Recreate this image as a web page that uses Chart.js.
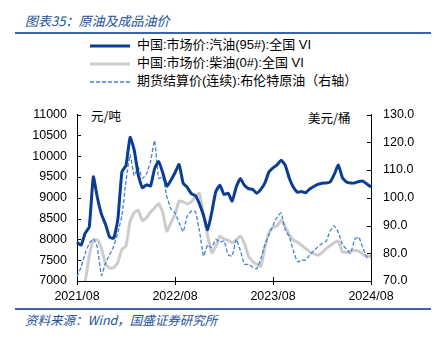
<!DOCTYPE html>
<html>
<head>
<meta charset="utf-8">
<script src="https://cdn.jsdelivr.net/npm/chart.js@4"></script>
<style>
  html, body { margin: 0; padding: 0; background: #fff; }
  body { width: 437px; height: 341px; position: relative; overflow: hidden;
         font-family: "Liberation Sans", "Noto Sans CJK SC", sans-serif; color: #000; }
  .title { position: absolute; left: 25px; top: 11px; font-size: 13px; font-style: italic;
           color: #24509c; font-family: "Noto Sans CJK SC", sans-serif; }
  .rule { position: absolute; left: 15px; width: 416px; height: 2px; background: #3a64b0; }
  .legend { position: absolute; left: 90px; top: 36px; font-size: 13px;
            font-family: "Liberation Sans", "Noto Sans CJK SC", sans-serif; }
  .legend div { height: 18px; line-height: 18px; white-space: nowrap; }
  .legend svg { vertical-align: middle; margin-right: 7px; }
  .unit { position: absolute; font-size: 12.5px; font-family: "Noto Sans CJK SC", sans-serif; }
  .source { position: absolute; left: 25px; top: 310px; font-size: 12.5px; font-style: italic;
            color: #24509c; font-family: "Noto Sans CJK SC", sans-serif; }
  #wrap { position: absolute; left: 0; top: 95px; width: 437px; height: 210px; }
</style>
</head>
<body>
<div class="title">图表35：原油及成品油价</div>
<div class="rule" style="top:32px"></div>
<div class="legend" id="legend"></div>
<div class="unit" style="left:91px;top:106px">元/吨</div>
<div class="unit" style="left:308px;top:108px">美元/桶</div>
<div id="wrap"><canvas id="chart"></canvas></div>
<div class="rule" style="top:308px"></div>
<div class="source">资料来源：Wind，国盛证券研究所</div>
<script>
// --- Data (half-month steps, 2021/08 - 2024/08) ---
const dates = [
  '2021/08/01','2021/08/16','2021/09/01','2021/09/16','2021/10/01','2021/10/16','2021/11/01','2021/11/16',
  '2021/12/01','2021/12/16','2022/01/01','2022/01/16','2022/02/01','2022/02/16','2022/03/01','2022/03/16',
  '2022/04/01','2022/04/16','2022/05/01','2022/05/16','2022/06/01','2022/06/16','2022/07/01','2022/07/16',
  '2022/08/01','2022/08/16','2022/09/01','2022/09/16','2022/10/01','2022/10/16','2022/11/01','2022/11/16',
  '2022/12/01','2022/12/16','2023/01/01','2023/01/16','2023/02/01','2023/02/16','2023/03/01','2023/03/16',
  '2023/04/01','2023/04/16','2023/05/01','2023/05/16','2023/06/01','2023/06/16','2023/07/01','2023/07/16',
  '2023/08/01','2023/08/16','2023/09/01','2023/09/16','2023/10/01','2023/10/16','2023/11/01','2023/11/16',
  '2023/12/01','2023/12/16','2024/01/01','2024/01/16','2024/02/01','2024/02/16','2024/03/01','2024/03/16',
  '2024/04/01','2024/04/16','2024/05/01','2024/05/16','2024/06/01','2024/06/16','2024/07/01','2024/07/16',
  '2024/08/01'
];

const gasoline95 = [
  7930, 7860, 8150, 8300, 9500, 9000, 8600, 8360, 8050, 8030, 8480, 9620, 9780, 10450, 10150, 9550,
  9240, 9310, 9280, 9700, 9870, 9600, 9280, 9420, 9600, 9800, 9350, 9250, 9100, 9050, 8850, 8570,
  8230, 8650, 9150, 9300, 9080, 9110, 8920, 9260, 9460, 9300, 9220, 9200, 9110, 9200, 9350, 9620,
  9720, 9790, 9900, 9780, 9470, 9250, 9130, 9150, 9120, 9210, 9270, 9320, 9350, 9355, 9380, 9560,
  9790, 9480, 9380, 9355, 9355, 9390, 9400, 9330, 9260
];

const diesel0 = [
  6700, 6850, 7000, 7600, 7980, 7990, 7780, 7400, 7310, 7320, 7450, 7760, 7840, 8430, 8640, 8700,
  8450, 8520, 8650, 8760, 8860, 8650, 8200, 8400, 8600, 8920, 8900, 8850, 8900, 9030, 9100, 8570,
  8080, 7680, 7830, 8080, 8010, 7980, 7920, 7980, 8080, 7900, 7600, 7470, 7400, 7350, 7800, 8170,
  8290, 8330, 8460, 8300, 8110, 7990, 7930, 7860, 7780, 7700, 7650, 7620, 7680, 7780, 7850, 7920,
  7960, 7700, 7690, 7720, 7730, 7720, 7640, 7600, 7570
];

const brent = [
  71.5, 75.0, 80.0, 83.5, 85.2, 82.0, 72.0, 76.5, 79.5, 82.5, 87.5, 93.5, 106.0, 115.5, 108.0, 111.0,
  107.0, 108.5, 113.0, 120.5, 107.0, 107.5, 100.5, 96.0, 94.5, 91.0, 87.8, 93.4, 95.2, 95.0, 88.0, 79.0,
  83.0, 82.0, 85.0, 84.0, 84.5, 79.5, 79.0, 85.0, 81.0, 76.0, 76.0, 75.0, 74.4, 78.0, 83.0, 86.5,
  90.0, 93.0, 94.5, 88.5, 86.0, 80.8, 76.9, 77.5, 77.5, 79.4, 80.9, 82.3, 83.5, 84.3, 88.0, 89.9,
  87.5, 83.2, 81.5, 80.0, 85.0, 85.8, 82.0, 78.5, 79.2
];

const seriesNames = ['中国:市场价:汽油(95#):全国 VI', '中国:市场价:柴油(0#):全国 VI', '期货结算价(连续):布伦特原油（右轴）'];
const xTickLabels = ['2021/08', '2022/08', '2023/08', '2024/08'];

const leftTicks = { min: 7000, max: 11000, step: 500 };
const rightTicks = { min: 70, max: 130, step: 10 };

// --- Styles ---
const colors = { gas: '#0b3d94', diesel: '#cccccc', brent: '#4a7fd4' };
const tickFont = { family: 'Liberation Sans', size: 12.5 };

// --- Legend (HTML) ---
function buildLegend() {
  const legend = document.getElementById('legend');
  const items = [
    { color: colors.gas, width: 3, dash: '' },
    { color: colors.diesel, width: 3, dash: '' },
    { color: colors.brent, width: 1.3, dash: '4,2' }
  ];
  items.forEach((it, i) => {
    const row = document.createElement('div');
    row.innerHTML = `<svg width="40" height="6"><line x1="0" y1="3" x2="40" y2="3" stroke="${it.color}" stroke-width="${it.width}" stroke-dasharray="${it.dash}"/></svg>${seriesNames[i]}`;
    legend.appendChild(row);
  });
}
buildLegend();

// inward tick marks like the original
const tickMarks = {
  id: 'tickMarks',
  afterDraw(chart) {
    const ctx = chart.ctx;
    const area = chart.chartArea;
    ctx.save();
    ctx.strokeStyle = '#000';
    ctx.lineWidth = 1;
    ctx.beginPath();
    const yl = chart.scales.y;
    yl.ticks.forEach((t, i) => {
      const y = Math.round(yl.getPixelForTick(i)) + 0.5;
      ctx.moveTo(area.left, y); ctx.lineTo(area.left + 4, y);
    });
    const yr = chart.scales.y1;
    yr.ticks.forEach((t, i) => {
      const y = Math.round(yr.getPixelForTick(i)) + 0.5;
      ctx.moveTo(area.right, y); ctx.lineTo(area.right - 4, y);
    });
    const xs = chart.scales.x;
    xs.ticks.forEach((t, i) => {
      const x = Math.round(xs.getPixelForTick(i)) + 0.5;
      ctx.moveTo(x, area.bottom - 4); ctx.lineTo(x, area.bottom + 4);
    });
    ctx.stroke();
    ctx.restore();
  }
};

new Chart(document.getElementById('chart'), {
  type: 'line',
  data: {
    labels: dates,
    datasets: [
      { label: seriesNames[0], data: gasoline95, yAxisID: 'y', borderColor: colors.gas,
        borderWidth: 3, order: 0 },
      { label: seriesNames[1], data: diesel0, yAxisID: 'y', borderColor: colors.diesel,
        borderWidth: 3, order: 2 },
      { label: seriesNames[2], data: brent, yAxisID: 'y1', borderColor: colors.brent,
        borderWidth: 1.3, borderDash: [4, 2], order: 1 }
    ]
  },
  options: {
    responsive: true,
    maintainAspectRatio: false,
    animation: false,
    layout: { padding: { top: 17, left: 0, right: 0, bottom: 0 } },
    elements: { point: { radius: 0 }, line: { tension: 0.15, borderJoinStyle: 'round' } },
    plugins: { legend: { display: false }, tooltip: { enabled: false } },
    scales: {
      x: {
        grid: { display: false, drawTicks: false },
        border: { display: true, color: '#000', width: 1 },
        afterFit: s => { s.height = 24; },
        ticks: {
          autoSkip: false, maxRotation: 0, padding: 8, color: '#000', font: tickFont,
          callback: function (val, idx) {
            const lab = this.getLabelForValue(val).slice(0, 7);
            return (idx % 24 === 0 && xTickLabels.includes(lab)) ? lab : null;
          }
        }
      },
      y: {
        position: 'left', min: leftTicks.min, max: leftTicks.max,
        grid: { display: false, drawTicks: false },
        border: { display: true, color: '#000', width: 1 },
        afterFit: s => { s.width = 77; },
        ticks: { stepSize: leftTicks.step, padding: 10, color: '#000', font: tickFont,
                 callback: v => String(v) }
      },
      y1: {
        position: 'right', min: rightTicks.min, max: rightTicks.max,
        grid: { display: false, drawTicks: false },
        border: { display: true, color: '#000', width: 1 },
        afterFit: s => { s.width = 66; },
        ticks: { stepSize: rightTicks.step, padding: 12, color: '#000', font: tickFont,
                 callback: v => v.toFixed(1) }
      }
    }
  },
  plugins: [tickMarks]
});
</script>
</body>
</html>
